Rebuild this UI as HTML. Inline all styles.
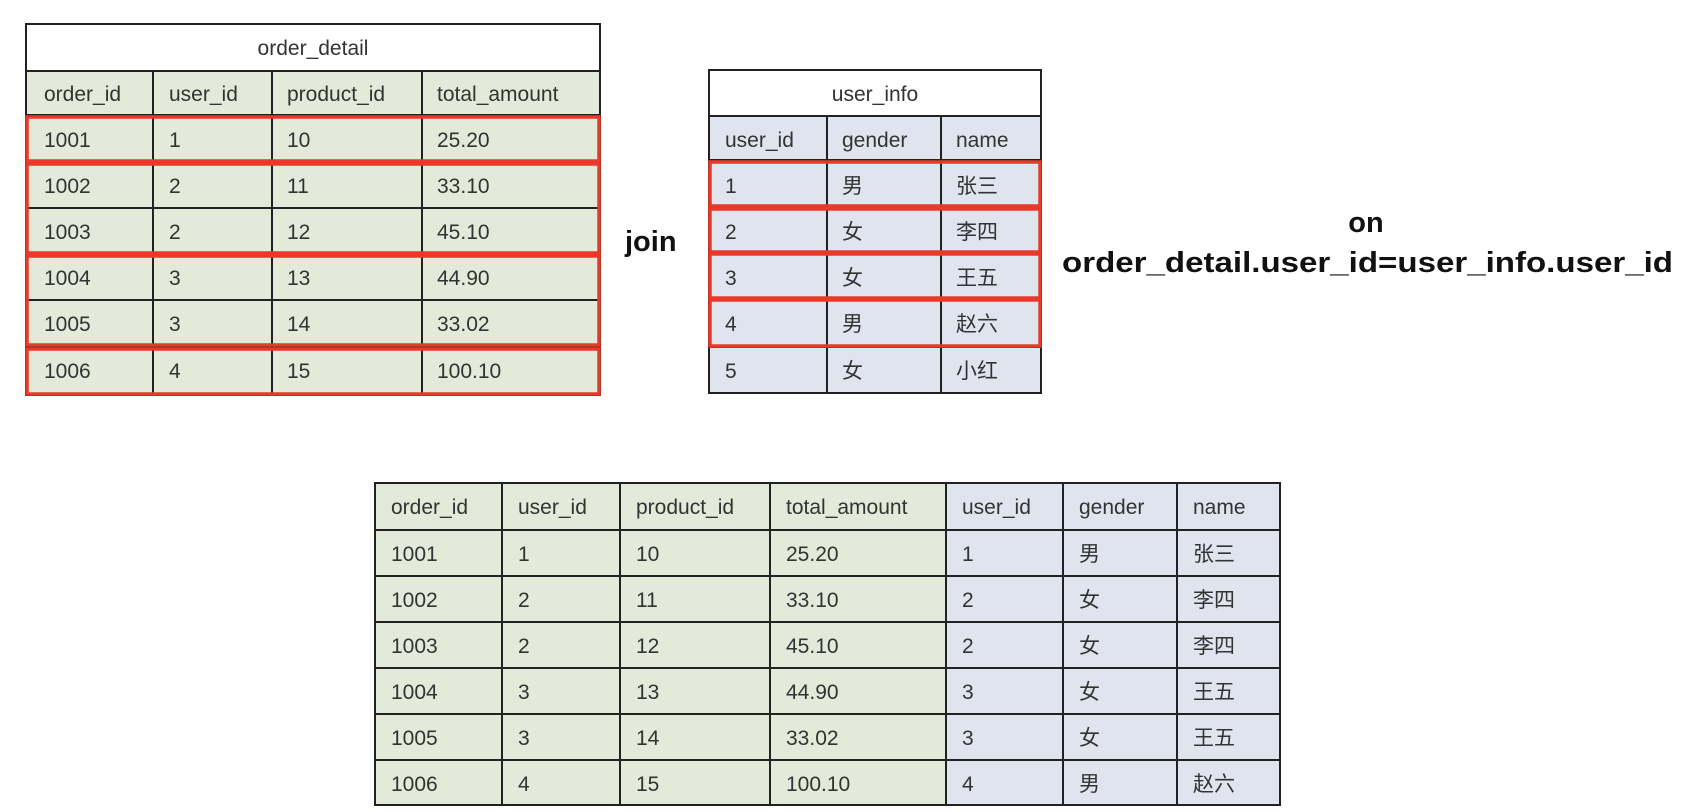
<!DOCTYPE html>
<html><head><meta charset="utf-8"><style>
html,body{margin:0;padding:0;background:#fff;width:1704px;height:812px;overflow:hidden}
svg text{font-family:"Liberation Sans","Noto Sans CJK SC",sans-serif;fill:#333;font-size:21px}
.b{font-weight:bold;fill:#111;font-size:29px}
</style></head><body>
<svg width="1704" height="812" xmlns="http://www.w3.org/2000/svg">
<!-- order_detail -->
<rect x="26" y="24" width="574" height="47" fill="#fff" stroke="#222" stroke-width="2"/>
<text x="313" y="55" text-anchor="middle">order_detail</text>
<rect x="26" y="71" width="574" height="324" fill="#e3ead9" stroke="#222" stroke-width="2"/>
<g stroke="#222" stroke-width="2">
<line x1="153" y1="71" x2="153" y2="395"/><line x1="272" y1="71" x2="272" y2="395"/><line x1="422" y1="71" x2="422" y2="395"/>
<line x1="26" y1="115" x2="600" y2="115"/><line x1="26" y1="162" x2="600" y2="162"/><line x1="26" y1="208" x2="600" y2="208"/><line x1="26" y1="253" x2="600" y2="253"/><line x1="26" y1="300" x2="600" y2="300"/><line x1="26" y1="347" x2="600" y2="347"/>
</g>
<g>
<text x="44" y="101">order_id</text><text x="169" y="101">user_id</text><text x="287" y="101">product_id</text><text x="437" y="101">total_amount</text>
<text x="44" y="147">1001</text><text x="169" y="147">1</text><text x="287" y="147">10</text><text x="437" y="147">25.20</text>
<text x="44" y="193">1002</text><text x="169" y="193">2</text><text x="287" y="193">11</text><text x="437" y="193">33.10</text>
<text x="44" y="239">1003</text><text x="169" y="239">2</text><text x="287" y="239">12</text><text x="437" y="239">45.10</text>
<text x="44" y="285">1004</text><text x="169" y="285">3</text><text x="287" y="285">13</text><text x="437" y="285">44.90</text>
<text x="44" y="331">1005</text><text x="169" y="331">3</text><text x="287" y="331">14</text><text x="437" y="331">33.02</text>
<text x="44" y="378">1006</text><text x="169" y="378">4</text><text x="287" y="378">15</text><text x="437" y="378">100.10</text>
</g>
<g fill="none" stroke="#e8392a" stroke-width="3.5">
<rect x="27" y="117" width="572" height="44"/>
<rect x="27" y="164" width="572" height="89"/>
<rect x="27" y="256" width="572" height="89"/>
<rect x="27" y="349" width="572" height="45"/>
</g>
<text class="b" x="625" y="251">join</text>
<!-- user_info -->
<rect x="709" y="70" width="332" height="46" fill="#fff" stroke="#222" stroke-width="2"/>
<text x="875" y="101" text-anchor="middle">user_info</text>
<rect x="709" y="116" width="332" height="277" fill="#dfe4ee" stroke="#222" stroke-width="2"/>
<g stroke="#222" stroke-width="2">
<line x1="827" y1="116" x2="827" y2="393"/><line x1="941" y1="116" x2="941" y2="393"/>
<line x1="709" y1="160" x2="1041" y2="160"/><line x1="709" y1="207" x2="1041" y2="207"/><line x1="709" y1="252" x2="1041" y2="252"/><line x1="709" y1="298" x2="1041" y2="298"/><line x1="709" y1="347" x2="1041" y2="347"/>
</g>
<g>
<text x="725" y="147">user_id</text><text x="842" y="147">gender</text><text x="956" y="147">name</text>
<text x="725" y="193">1</text><text x="842" y="193">男</text><text x="956" y="193">张三</text>
<text x="725" y="239">2</text><text x="842" y="239">女</text><text x="956" y="239">李四</text>
<text x="725" y="285">3</text><text x="842" y="285">女</text><text x="956" y="285">王五</text>
<text x="725" y="331">4</text><text x="842" y="331">男</text><text x="956" y="331">赵六</text>
<text x="725" y="378">5</text><text x="842" y="378">女</text><text x="956" y="378">小红</text>
</g>
<g fill="none" stroke="#e8392a" stroke-width="3.5">
<rect x="710" y="162" width="330" height="44"/>
<rect x="710" y="209" width="330" height="43"/>
<rect x="710" y="254" width="330" height="44"/>
<rect x="710" y="300" width="330" height="46"/>
</g>
<text class="b" x="1366" y="232" text-anchor="middle">on</text>
<text class="b" x="1062" y="272" textLength="611" lengthAdjust="spacingAndGlyphs">order_detail.user_id=user_info.user_id</text>
<!-- result -->
<rect x="375" y="483" width="571" height="322" fill="#e3ead9"/>
<rect x="946" y="483" width="334" height="322" fill="#dfe4ee"/>
<rect x="375" y="483" width="905" height="322" fill="none" stroke="#222" stroke-width="2"/>
<g stroke="#222" stroke-width="2">
<line x1="502" y1="483" x2="502" y2="805"/><line x1="620" y1="483" x2="620" y2="805"/><line x1="770" y1="483" x2="770" y2="805"/><line x1="946" y1="483" x2="946" y2="805"/><line x1="1063" y1="483" x2="1063" y2="805"/><line x1="1177" y1="483" x2="1177" y2="805"/>
<line x1="375" y1="530" x2="1280" y2="530"/><line x1="375" y1="576" x2="1280" y2="576"/><line x1="375" y1="622" x2="1280" y2="622"/><line x1="375" y1="668" x2="1280" y2="668"/><line x1="375" y1="714" x2="1280" y2="714"/><line x1="375" y1="760" x2="1280" y2="760"/>
</g>
<g>
<text x="391" y="514">order_id</text><text x="518" y="514">user_id</text><text x="636" y="514">product_id</text><text x="786" y="514">total_amount</text><text x="962" y="514">user_id</text><text x="1079" y="514">gender</text><text x="1193" y="514">name</text>
<text x="391" y="561">1001</text><text x="518" y="561">1</text><text x="636" y="561">10</text><text x="786" y="561">25.20</text><text x="962" y="561">1</text><text x="1079" y="561">男</text><text x="1193" y="561">张三</text>
<text x="391" y="607">1002</text><text x="518" y="607">2</text><text x="636" y="607">11</text><text x="786" y="607">33.10</text><text x="962" y="607">2</text><text x="1079" y="607">女</text><text x="1193" y="607">李四</text>
<text x="391" y="653">1003</text><text x="518" y="653">2</text><text x="636" y="653">12</text><text x="786" y="653">45.10</text><text x="962" y="653">2</text><text x="1079" y="653">女</text><text x="1193" y="653">李四</text>
<text x="391" y="699">1004</text><text x="518" y="699">3</text><text x="636" y="699">13</text><text x="786" y="699">44.90</text><text x="962" y="699">3</text><text x="1079" y="699">女</text><text x="1193" y="699">王五</text>
<text x="391" y="745">1005</text><text x="518" y="745">3</text><text x="636" y="745">14</text><text x="786" y="745">33.02</text><text x="962" y="745">3</text><text x="1079" y="745">女</text><text x="1193" y="745">王五</text>
<text x="391" y="791">1006</text><text x="518" y="791">4</text><text x="636" y="791">15</text><text x="786" y="791">100.10</text><text x="962" y="791">4</text><text x="1079" y="791">男</text><text x="1193" y="791">赵六</text>
</g>
</svg>
</body></html>
